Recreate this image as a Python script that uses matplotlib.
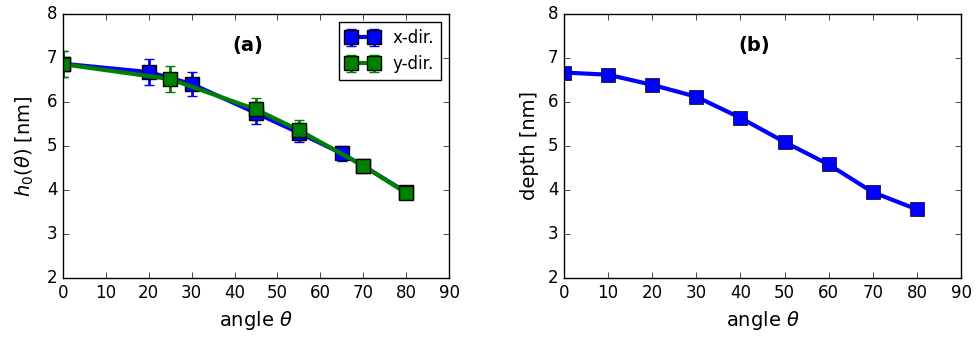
import numpy as np
import matplotlib
matplotlib.use('Agg')
import matplotlib.pyplot as plt

plt.style.use('classic')
plt.rcParams['figure.facecolor'] = 'white'
plt.rcParams['savefig.facecolor'] = 'white'
plt.rcParams['font.family'] = ['DejaVu Sans']
plt.rcParams['mathtext.fontset'] = 'dejavusans'
plt.rcParams['font.size'] = 12

# panel (a): h0 vs angle, two directions
ang_x = [0, 20, 30, 45, 55, 65, 70, 80]
h0_x = [6.87, 6.68, 6.41, 5.75, 5.30, 4.83, 4.55, 3.95]
err_x = [0.30, 0.29, 0.28, 0.25, 0.22, 0.18, 0.12, 0.05]

ang_y = [0, 25, 45, 55, 70, 80]
h0_y = [6.86, 6.52, 5.83, 5.36, 4.55, 3.93]
err_y = [0.30, 0.29, 0.25, 0.22, 0.13, 0.05]

# panel (b): depth vs angle
ang_b = [0, 10, 20, 30, 40, 50, 60, 70, 80]
depth_b = [6.67, 6.62, 6.39, 6.12, 5.64, 5.09, 4.58, 3.95, 3.56]

fig = plt.figure(figsize=(9.79, 3.39), dpi=100)
ax1 = fig.add_axes([63/979, 1-278/339, 386/979, 264/339])
ax2 = fig.add_axes([564/979, 1-278/339, 397/979, 264/339])

ax1.errorbar(ang_x, h0_x, yerr=err_x, color='b', marker='s', ms=10,
             mec='k', lw=3, capsize=3.5, mew=1, elinewidth=2, capthick=2,
             label='x-dir.')
ax1.errorbar(ang_y, h0_y, yerr=err_y, color='g', marker='s', ms=10,
             mec='k', lw=3, capsize=3.5, mew=1, elinewidth=2, capthick=2,
             label='y-dir.')
ax1.set_xlim(0, 90)
ax1.set_ylim(2, 8)
ax1.set_xlabel(r'angle $\theta$', fontsize=14)
ax1.set_ylabel(r'$h_0(\theta)$ [nm]', fontsize=14, labelpad=8)
ax1.text(0.48, 0.88, '(a)', transform=ax1.transAxes, fontweight='bold',
         ha='center', va='center', fontsize=14)
ax1.legend(loc='upper right', fontsize=12, numpoints=2)

ax2.plot(ang_b, depth_b, color='b', marker='s', ms=10, mec='k', lw=3)
ax2.set_xlim(0, 90)
ax2.set_ylim(2, 8)
ax2.set_xlabel(r'angle $\theta$', fontsize=14)
ax2.set_ylabel('depth [nm]', fontsize=14, labelpad=6)
ax2.text(0.48, 0.88, '(b)', transform=ax2.transAxes, fontweight='bold',
         ha='center', va='center', fontsize=14)

plt.savefig('out.png', dpi=100)
